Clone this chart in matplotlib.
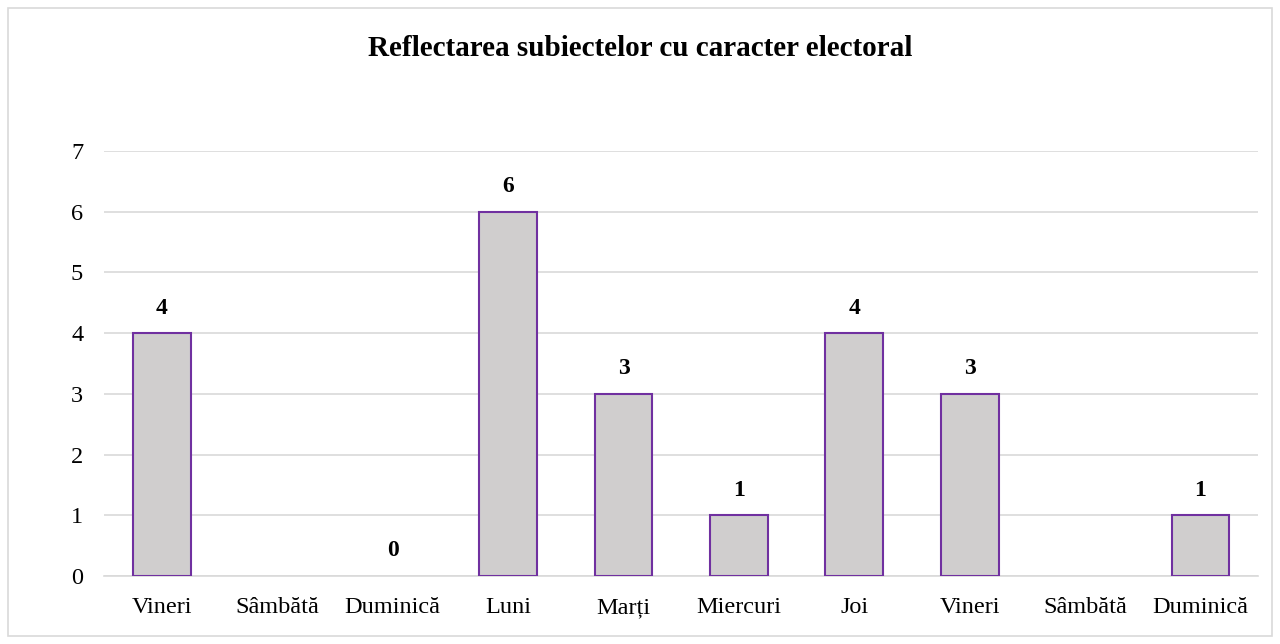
import numpy as np
import matplotlib.pyplot as plt
from matplotlib.patches import Rectangle

days = ['Vineri', 'Sâmbătă', 'Duminică', 'Luni', 'Marți', 'Miercuri',
        'Joi', 'Vineri', 'Sâmbătă', 'Duminică']
values = [4, np.nan, 0, 6, 3, 1, 4, 3, np.nan, 1]
yticks = [0, 1, 2, 3, 4, 5, 6, 7]

plt.rcParams['font.family'] = ['Liberation Serif', 'DejaVu Serif']

fig = plt.figure(figsize=(12.8, 6.44), dpi=100)
ax = fig.add_axes([0.0813, 0.1056, 0.9017, 0.66])

x = np.arange(len(days))
vals = np.array(values, dtype=float)
# only bars with height > 0 get drawn (zero/empty days show no outline)
show = np.nan_to_num(vals) > 0
ax.bar(x[show], vals[show], width=0.5, color='#D0CECE',
       edgecolor='#7030A0', linewidth=1.5, zorder=3)

for xi, v in zip(x, vals):
    if np.isnan(v):
        continue
    ax.annotate(str(int(v)), (xi, v), xytext=(0, 18), textcoords='offset points',
                ha='center', va='center', fontsize=17, fontweight='bold')

ax.set_xlim(-0.5, len(days) - 0.5)
ax.set_ylim(0, 7)
ax.set_yticks(yticks)
ax.set_xticks(x)
ax.set_xticklabels(days)
ax.tick_params(axis='both', length=0, labelsize=17.5, colors='black')
ax.tick_params(axis='y', pad=15)
ax.tick_params(axis='x', pad=15)
ax.grid(axis='y', color='#D9D9D9', linewidth=1.2, zorder=0)
for s in ['top', 'right', 'left']:
    ax.spines[s].set_visible(False)
ax.spines['bottom'].set_color('#D9D9D9')
ax.spines['bottom'].set_linewidth(1.2)

fig.text(0.5, 0.925, 'Reflectarea subiectelor cu caracter electoral',
         ha='center', va='center', fontsize=21, fontweight='bold')

fig.patches.append(Rectangle((0.006, 0.012), 0.988, 0.976, transform=fig.transFigure,
                             fill=False, edgecolor='#D9D9D9', linewidth=1.2))

fig.savefig('out.png', dpi=100)
